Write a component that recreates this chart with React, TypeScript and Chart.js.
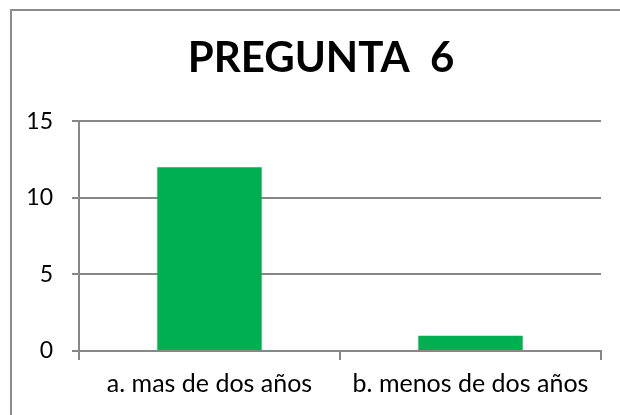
import React, { useEffect, useRef } from "react";
import { Chart, registerables } from "chart.js";

Chart.register(...registerables);

const categories = ["a. mas de dos años", "b. menos de dos años"];
const values = [12, 1];
const yTicks = [0, 5, 10, 15];
const titleText = "PREGUNTA  6";

const FONT = "Lato, 'Open Sans', sans-serif";
const GRID = "#878787";

const frame = {
  id: "frame",
  beforeDraw(chart: any) {
    const ctx = chart.ctx;
    ctx.save();
    ctx.strokeStyle = "#8c8c8c";
    ctx.lineWidth = 2;
    ctx.beginPath();
    ctx.moveTo(11, chart.height + 10);
    ctx.lineTo(11, 10);
    ctx.lineTo(chart.width + 10, 10);
    ctx.stroke();
    ctx.restore();
  },
};

const titleShift = {
  id: "titleShift",
  afterLayout(chart: any) {
    const tb = chart.titleBlock;
    if (tb) {
      tb.left = 41;
      tb.right = chart.chartArea.right;
    }
  },
};

export default function App() {
  const ref = useRef<HTMLCanvasElement | null>(null);
  useEffect(() => {
    document.body.style.margin = "0";
    const chart = new Chart(ref.current!, {
      type: "bar",
      data: {
        labels: categories,
        datasets: [
          {
            data: values,
            backgroundColor: "#00B050",
            borderWidth: 0,
            barPercentage: 0.4,
            categoryPercentage: 1,
          },
        ],
      },
      options: {
        animation: false,
        responsive: false,
        layout: { padding: { left: 0, right: 19, top: 0, bottom: 0 } },
        plugins: {
          legend: { display: false },
          tooltip: { enabled: false },
          title: {
            display: true,
            text: titleText,
            color: "#000",
            font: { family: FONT, size: 42, weight: "bold" },
            padding: { top: 33, bottom: 38 },
          },
        },
        scales: {
          y: {
            min: 0,
            max: 15,
            afterBuildTicks: (s: any) => {
              s.ticks = yTicks.map((v) => ({ value: v }));
            },
            ticks: {
              color: "#000",
              font: { family: FONT, size: 23 },
              padding: 19,
            },
            grid: { color: GRID, lineWidth: 2, tickLength: 7 },
            border: { display: true, color: GRID, width: 2 },
            afterFit: (s: any) => {
              s.width = 79;
            },
          },
          x: {
            ticks: {
              color: "#000",
              font: { family: FONT, size: 25 },
              padding: 9,
            },
            grid: {
              offset: true,
              drawOnChartArea: false,
              drawTicks: true,
              tickLength: 9,
              color: GRID,
              lineWidth: 2,
            },
            border: { display: true, color: GRID, width: 2 },
            afterFit: (s: any) => {
              s.height = 64;
            },
          },
        },
      },
      plugins: [frame, titleShift],
    });
    return () => chart.destroy();
  }, []);
  return <canvas ref={ref} width={620} height={415} style={{ display: "block" }} />;
}
